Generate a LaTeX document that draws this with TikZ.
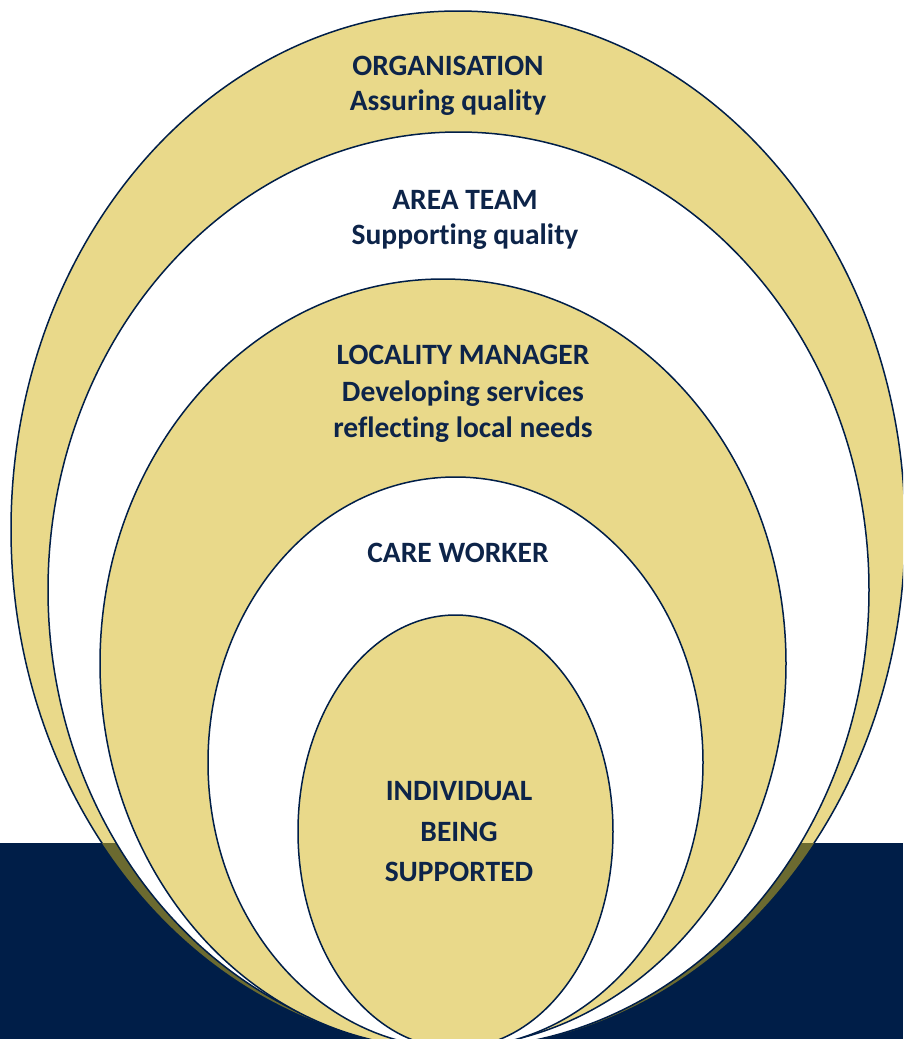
\documentclass[tikz,border=0pt]{standalone}
\usepackage{fontspec}
\setmainfont{Carlito}[RawFeature=-liga]
\definecolor{tan}{RGB}{233,217,138}
\definecolor{navy}{RGB}{0,30,72}
\definecolor{olive}{RGB}{107,106,48}
\definecolor{txt}{RGB}{13,36,73}
\begin{document}
\begin{tikzpicture}[x=1pt,y=-1pt,
  ring/.style={draw=navy,line width=1.5pt},
  lbl/.style={text=txt,font=\fontsize{29.5}{35.5}\selectfont\bfseries,align=center,inner sep=0pt}]
\clip (0,0) rectangle (903,1039);
\fill[white] (0,0) rectangle (903,1039);
% outer
\filldraw[ring,fill=tan] (458,529.5) ellipse [x radius=447pt, y radius=518.5pt];
\fill[navy] (0,843) rectangle (903,1039);
\begin{scope}
\clip (0,843) rectangle (903,1039);
\fill[olive] (458,529.5) ellipse [x radius=447pt, y radius=518.5pt];
\end{scope}
\filldraw[ring,fill=white] (458.5,590) ellipse [x radius=410.5pt, y radius=458pt];
\filldraw[ring,fill=tan] (443,663.5) ellipse [x radius=343pt, y radius=384.5pt];
\filldraw[ring,fill=white] (455.5,762.5) ellipse [x radius=247.5pt, y radius=285.5pt];
\filldraw[ring,fill=tan] (455.5,831.5) ellipse [x radius=157.5pt, y radius=216.5pt];
% labels
\node[lbl] (org) at (448,86) {ORGANISATION\\Assuring quality};
\node[lbl] (area) at (465,220) {AREA TEAM\\Supporting quality};
\node[lbl,font=\fontsize{29.5}{36.5}\selectfont\bfseries] (loc) at (463,394) {LOCALITY MANAGER\\Developing services\\reflecting local needs};
\node[lbl] (care) at (458,553) {CARE WORKER};
\node[lbl,font=\fontsize{29.5}{40.5}\selectfont\bfseries] (ind) at (459,832) {INDIVIDUAL\\BEING\\SUPPORTED};
\end{tikzpicture}
\end{document}
